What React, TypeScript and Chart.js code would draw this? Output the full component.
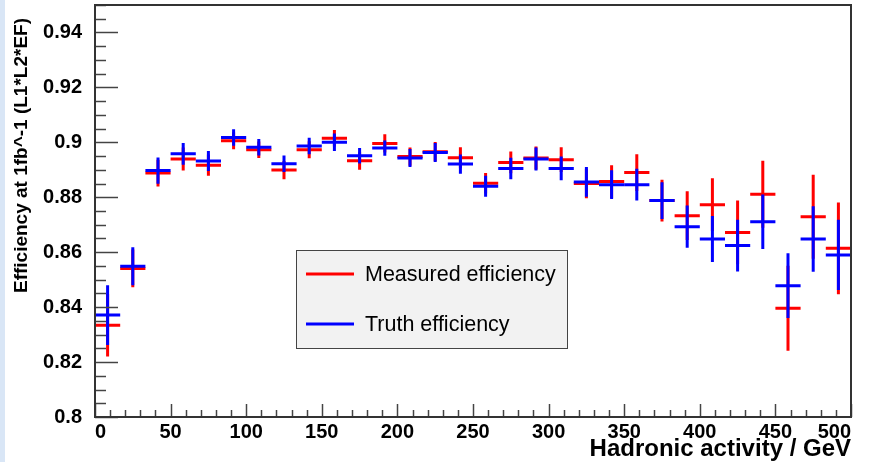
import React, { useEffect, useRef } from 'react';
import { Chart, registerables } from 'chart.js';

Chart.register(...registerables);

// ---- data ----
const binCenters = [
  8.333, 25, 41.667, 58.333, 75, 91.667, 108.333, 125, 141.667, 158.333,
  175, 191.667, 208.333, 225, 241.667, 258.333, 275, 291.667, 308.333, 325,
  341.667, 358.333, 375, 391.667, 408.333, 425, 441.667, 458.333, 475, 491.667,
];
const binHalfWidth = 8.333;

const measured = [
  0.8334, 0.8541, 0.8888, 0.8939, 0.8917, 0.9006, 0.8973, 0.8899, 0.8973, 0.9015,
  0.8933, 0.8996, 0.8948, 0.8966, 0.8944, 0.8851, 0.8927, 0.8943, 0.8937, 0.8850,
  0.8857, 0.8890, 0.8788, 0.8733, 0.8773, 0.8672, 0.8811, 0.8396, 0.8729, 0.8614,
];
const measuredErr = [
  0.0114, 0.0069, 0.0049, 0.0042, 0.0039, 0.0031, 0.0030, 0.0033, 0.0031, 0.0030,
  0.0033, 0.0033, 0.0033, 0.0035, 0.0038, 0.0037, 0.0040, 0.0042, 0.0045, 0.0054,
  0.0060, 0.0067, 0.0076, 0.0089, 0.0096, 0.0116, 0.0122, 0.0155, 0.0153, 0.0167,
];
const truth = [
  0.8371, 0.8549, 0.8897, 0.8958, 0.8932, 0.9018, 0.8982, 0.8922, 0.8987, 0.9000,
  0.8951, 0.8979, 0.8943, 0.8963, 0.8921, 0.8840, 0.8905, 0.8939, 0.8905, 0.8856,
  0.8846, 0.8846, 0.8788, 0.8693, 0.8648, 0.8624, 0.8711, 0.8478, 0.8648, 0.8590,
];
const truthErr = [
  0.0109, 0.0069, 0.0048, 0.0040, 0.0036, 0.0030, 0.0030, 0.0030, 0.0030, 0.0032,
  0.0028, 0.0028, 0.0033, 0.0035, 0.0035, 0.0038, 0.0039, 0.0042, 0.0043, 0.0054,
  0.0052, 0.0058, 0.0067, 0.0077, 0.0084, 0.0094, 0.0099, 0.0118, 0.0119, 0.0128,
];

const seriesNames = ['Measured efficiency', 'Truth efficiency'];
const seriesColors = ['#ff0000', '#0000ff'];
const xTitle = 'Hadronic activity / GeV';
const yTitle = 'Efficiency at 1fb^-1 (L1*L2*EF)';

const X_MIN = 0, X_MAX = 500, X_STEP = 50, X_MINOR = 10;
const Y_MIN = 0.8, Y_MAX = 0.95, Y_STEP = 0.02, Y_MINOR = 0.005;

const FONT = "'Liberation Sans', Arial, Helvetica, sans-serif";

function makePoints(vals: number[], errs: number[]) {
  return vals.map((v, i) => ({ x: binCenters[i], y: v, xerr: binHalfWidth, yerr: errs[i] }));
}

const rootPlugin = {
  id: 'rootStyle',
  afterDatasetsDraw(chart: any) {
    const ctx: CanvasRenderingContext2D = chart.ctx;
    const xs = chart.scales.x;
    const ys = chart.scales.y;
    const { left, right, top, bottom } = chart.chartArea;
    ctx.save();

    // error-bar crosses
    ctx.save();
    ctx.beginPath();
    ctx.rect(left, top, right - left, bottom - top);
    ctx.clip();
    chart.data.datasets.forEach((ds: any) => {
      ctx.strokeStyle = ds.borderColor;
      ctx.lineWidth = 3;
      ctx.lineCap = 'butt';
      ds.data.forEach((p: any) => {
        const cx = xs.getPixelForValue(p.x);
        const x0 = xs.getPixelForValue(p.x - p.xerr);
        const x1 = xs.getPixelForValue(p.x + p.xerr);
        const cy = ys.getPixelForValue(p.y);
        const y0 = ys.getPixelForValue(p.y - p.yerr);
        const y1 = ys.getPixelForValue(p.y + p.yerr);
        ctx.beginPath();
        ctx.moveTo(x0, cy);
        ctx.lineTo(x1, cy);
        ctx.moveTo(cx, y0);
        ctx.lineTo(cx, y1);
        ctx.stroke();
      });
    });
    ctx.restore();

    // tick marks
    ctx.strokeStyle = '#444';
    ctx.lineWidth = 1.5;
    const nY = Math.round((Y_MAX - Y_MIN) / Y_MINOR);
    for (let i = 0; i <= nY; i++) {
      const v = Y_MIN + i * Y_MINOR;
      const py = Math.round(ys.getPixelForValue(v)) + 0.5;
      const major = i % Math.round(Y_STEP / Y_MINOR) === 0 && v < Y_MAX - 1e-9;
      const len = major ? 23 : 11;
      ctx.beginPath();
      ctx.moveTo(left, py);
      ctx.lineTo(left + len, py);
      ctx.stroke();
    }
    const nX = Math.round((X_MAX - X_MIN) / X_MINOR);
    for (let i = 0; i <= nX; i++) {
      const v = X_MIN + i * X_MINOR;
      const px = Math.round(xs.getPixelForValue(v)) + 0.5;
      const major = i % Math.round(X_STEP / X_MINOR) === 0;
      const len = major ? 13 : 7;
      ctx.beginPath();
      ctx.moveTo(px, bottom);
      ctx.lineTo(px, bottom - len);
      ctx.stroke();
    }

    // frame
    ctx.strokeStyle = '#333';
    ctx.lineWidth = 2;
    ctx.strokeRect(left, top, right - left, bottom - top);

    // legend box
    const bx = 296, by = 250, bw = 271, bh = 98;
    ctx.fillStyle = '#f2f2f2';
    ctx.fillRect(bx, by, bw, bh);
    ctx.strokeStyle = '#444';
    ctx.lineWidth = 1;
    ctx.strokeRect(bx + 0.5, by + 0.5, bw, bh);
    const rowY = [274, 324];
    chart.data.datasets.forEach((ds: any, i: number) => {
      ctx.strokeStyle = ds.borderColor;
      ctx.lineWidth = 3;
      ctx.beginPath();
      ctx.moveTo(bx + 10, rowY[i]);
      ctx.lineTo(bx + 58, rowY[i]);
      ctx.stroke();
      ctx.fillStyle = '#000';
      ctx.font = `21.5px ${FONT}`;
      ctx.textAlign = 'left';
      ctx.textBaseline = 'middle';
      ctx.fillText(ds.label, bx + 69, rowY[i] + 1);
    });

    // axis titles
    ctx.fillStyle = '#000';
    ctx.font = `bold 24px ${FONT}`;
    ctx.textAlign = 'right';
    ctx.textBaseline = 'middle';
    ctx.fillText(xTitle, right, 449);

    ctx.save();
    ctx.translate(22, 18);
    ctx.rotate(-Math.PI / 2);
    ctx.font = `bold 19px ${FONT}`;
    ctx.textAlign = 'right';
    ctx.textBaseline = 'middle';
    ctx.fillText(yTitle, 0, 0);
    ctx.restore();

    ctx.restore();
  },
};

export default function App() {
  const canvasRef = useRef<HTMLCanvasElement | null>(null);

  useEffect(() => {
    document.body.style.margin = '0';
    const canvas = canvasRef.current;
    if (!canvas) return;
    const chart = new Chart(canvas, {
      type: 'scatter',
      data: {
        datasets: [
          {
            label: seriesNames[0],
            data: makePoints(measured, measuredErr),
            borderColor: seriesColors[0],
            backgroundColor: seriesColors[0],
            pointRadius: 0,
            showLine: false,
          },
          {
            label: seriesNames[1],
            data: makePoints(truth, truthErr),
            borderColor: seriesColors[1],
            backgroundColor: seriesColors[1],
            pointRadius: 0,
            showLine: false,
          },
        ],
      },
      options: {
        animation: false,
        responsive: false,
        devicePixelRatio: 1,
        layout: { padding: { left: 0, top: 5, right: 20, bottom: 0 } },
        plugins: {
          legend: { display: false },
          tooltip: { enabled: false },
        },
        scales: {
          x: {
            type: 'linear',
            min: X_MIN,
            max: X_MAX,
            grid: { display: false, drawTicks: false },
            border: { display: false },
            ticks: {
              stepSize: X_STEP,
              autoSkip: false,
              maxRotation: 0,
              includeBounds: false,
              align: 'inner',
              padding: 3,
              color: '#000',
              font: { family: FONT, weight: 'bold', size: 20 },
            },
            afterFit: (s: any) => {
              s.height = 45;
              s.paddingLeft = 0;
              s.paddingRight = 0;
            },
          },
          y: {
            type: 'linear',
            min: Y_MIN,
            max: Y_MAX,
            grid: { display: false, drawTicks: false },
            border: { display: false },
            ticks: {
              stepSize: Y_STEP,
              includeBounds: false,
              autoSkip: false,
              padding: 13,
              color: '#000',
              font: { family: FONT, weight: 'bold', size: 20 },
              callback: (v: any) => String(Math.round(Number(v) * 100) / 100),
            },
            afterFit: (s: any) => {
              s.width = 95;
              s.paddingTop = 0;
              s.paddingBottom = 0;
            },
          },
        },
      } as any,
      plugins: [rootPlugin],
    });
    return () => chart.destroy();
  }, []);

  return (
    <div
      style={{
        width: 871,
        height: 462,
        position: 'relative',
        background: 'linear-gradient(to right, #d9e6f6 0px, #d9e6f6 5px, #ffffff 5px)',
      }}
    >
      <canvas ref={canvasRef} width={871} height={462} style={{ display: 'block' }} />
    </div>
  );
}
